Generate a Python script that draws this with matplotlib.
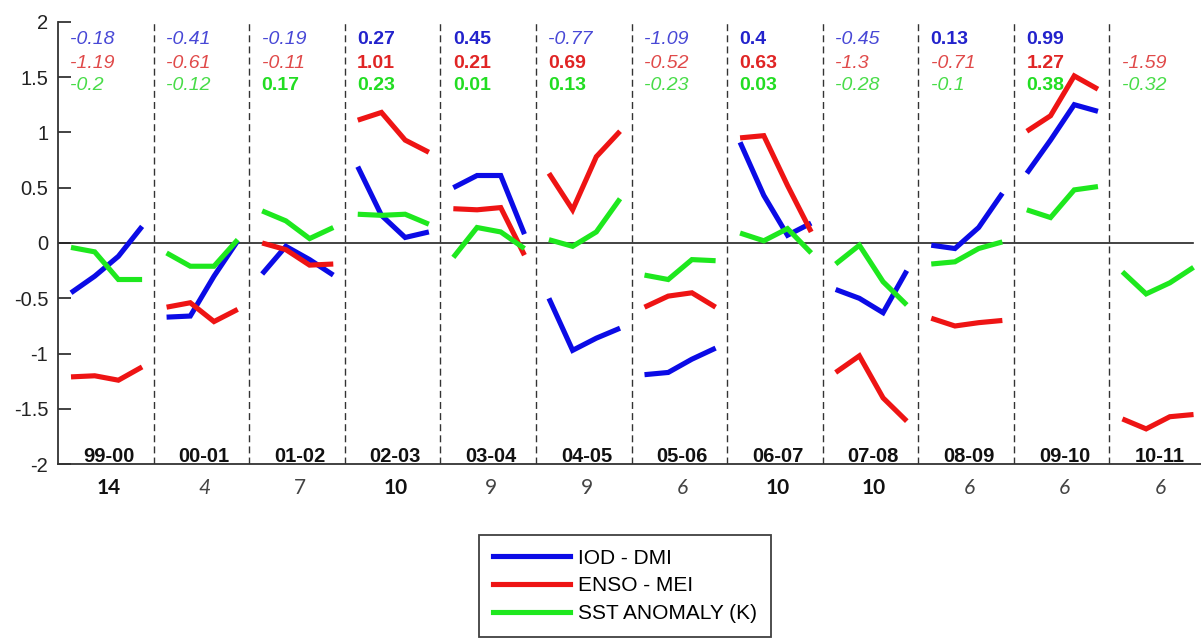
import matplotlib
matplotlib.use("Agg")
import matplotlib.pyplot as plt
from matplotlib.lines import Line2D
import numpy as np

plt.rcParams['font.family'] = ['Liberation Sans', 'DejaVu Sans']

# ---------------- data ----------------
seasons = ["99-00", "00-01", "01-02", "02-03", "03-04", "04-05",
           "05-06", "06-07", "07-08", "08-09", "09-10", "10-11"]
counts = [14, 4, 7, 10, 9, 9, 6, 10, 10, 6, 6, 6]
count_style = ["bold", "italic", "normal", "bold", "normal", "normal",
               "italic", "bold", "bold", "italic", "italic", "italic"]

iod = [
    [-0.45, -0.30, -0.12, 0.15],
    [-0.67, -0.66, -0.30, 0.02],
    [-0.28, -0.03, -0.15, -0.29],
    [0.69, 0.25, 0.05, 0.10],
    [0.50, 0.61, 0.61, 0.08],
    [-0.50, -0.97, -0.86, -0.77],
    [-1.19, -1.17, -1.05, -0.95],
    [0.91, 0.43, 0.07, 0.18],
    [-0.42, -0.50, -0.63, -0.25],
    [-0.02, -0.05, 0.14, 0.45],
    [0.63, 0.93, 1.25, 1.19],
    None,
]
enso = [
    [-1.21, -1.20, -1.24, -1.12],
    [-0.58, -0.54, -0.71, -0.60],
    [0.00, -0.06, -0.20, -0.19],
    [1.11, 1.18, 0.93, 0.82],
    [0.31, 0.30, 0.32, -0.11],
    [0.63, 0.30, 0.78, 1.01],
    [-0.58, -0.48, -0.45, -0.58],
    [0.95, 0.97, 0.52, 0.10],
    [-1.17, -1.02, -1.40, -1.61],
    [-0.68, -0.75, -0.72, -0.70],
    [1.01, 1.15, 1.51, 1.39],
    [-1.59, -1.68, -1.57, -1.55],
]
sst = [
    [-0.04, -0.08, -0.33, -0.33],
    [-0.09, -0.21, -0.21, 0.03],
    [0.29, 0.20, 0.04, 0.14],
    [0.26, 0.25, 0.26, 0.17],
    [-0.13, 0.14, 0.10, -0.05],
    [0.03, -0.03, 0.10, 0.40],
    [-0.29, -0.33, -0.15, -0.16],
    [0.09, 0.02, 0.13, -0.09],
    [-0.19, -0.02, -0.35, -0.56],
    [-0.19, -0.17, -0.05, 0.01],
    [0.30, 0.23, 0.48, 0.51],
    [-0.26, -0.46, -0.36, -0.22],
]

iod_mean = [-0.18, -0.41, -0.19, 0.27, 0.45, -0.77, -1.09, 0.4, -0.45, 0.13, 0.99, None]
enso_mean = [-1.19, -0.61, -0.11, 1.01, 0.21, 0.69, -0.52, 0.63, -1.3, -0.71, 1.27, -1.59]
sst_mean = [-0.2, -0.12, 0.17, 0.23, 0.01, 0.13, -0.23, 0.03, -0.28, -0.1, 0.38, -0.32]

series_names = ["IOD - DMI", "ENSO - MEI", "SST ANOMALY (K)"]

# ---------------- styling ----------------
line_colors = ["#0b0be6", "#ee1414", "#1ee81e"]
bold_colors = ["#2222cc", "#e02424", "#22dd22"]
ital_colors = ["#4848d6", "#e04a4a", "#48dc48"]

W, H = 1201, 638
fig = plt.figure(figsize=(W / 100, H / 100), dpi=100)
ax_left, ax_right = 58, 1205
ax_top, ax_bot = 21.7, 464.3
ax = fig.add_axes([ax_left / W, (H - ax_bot) / H,
                   (ax_right - ax_left) / W, (ax_bot - ax_top) / H])

n = len(seasons)
ax.set_xlim(0, n)
ax.set_ylim(-2, 2)

# panel separators
for k in range(1, n):
    ax.axvline(k, color="#333333", lw=1.0, ls=(0, (5, 3)), zorder=1)

# zero line
ax.axhline(0, xmin=0, xmax=11.87 / n, color="#222222", lw=1.2, zorder=2)

offs = 0.136 + 0.248 * np.arange(4)
for k in range(n):
    xs = k + offs
    for data, c in zip([iod, enso, sst], line_colors):
        vals = data[k]
        if vals is None:
            continue
        ax.plot(xs, vals, color=c, lw=3.7, solid_joinstyle="miter",
                solid_capstyle="butt", zorder=3)

# annotations (seasonal means)
row_px = [40, 63, 85]
for k in range(n):
    for j, means in enumerate([iod_mean, enso_mean, sst_mean]):
        v = means[k]
        if v is None:
            continue
        y = 2 - (row_px[j] - ax_top) / (ax_bot - ax_top) * 4
        if v > 0:
            ax.text(k + 0.13, y, str(v), color=bold_colors[j], fontsize=14,
                    fontweight="bold", ha="left", va="center", zorder=4)
        else:
            ax.text(k + 0.13, y, str(v), color=ital_colors[j], fontsize=14,
                    fontstyle="italic", ha="left", va="center", zorder=4)

# season labels inside bottom
ylab = 2 - (457 - ax_top) / (ax_bot - ax_top) * 4
for k, s in enumerate(seasons):
    ax.text(k + 0.53, ylab, s, fontsize=14.5, fontweight="bold",
            ha="center", va="center", color="#111111", zorder=4)

# counts below axis
for k, (c, st) in enumerate(zip(counts, count_style)):
    kw = dict(fontsize=15, ha="center", va="center",
              family=["Lato", "DejaVu Sans"])
    if st == "bold":
        kw.update(fontweight="bold", color="#111111")
    elif st == "italic":
        kw.update(fontstyle="italic", color="#444444")
    else:
        kw.update(color="#444444")
    fy = (H - 488) / H
    xfig = (ax_left + (k + 0.53) * (ax_right - ax_left) / n) / W
    fig.text(xfig, fy, str(c), **kw)

# axes styling
ax.spines["top"].set_visible(False)
ax.spines["right"].set_visible(False)
ax.spines["left"].set_color("#333333")
ax.spines["bottom"].set_color("#333333")
ax.spines["left"].set_linewidth(1.3)
ax.spines["bottom"].set_linewidth(1.3)
ax.set_xticks([])
yt = np.arange(-2, 2.01, 0.5)
ax.set_yticks(yt)
ax.set_yticklabels([f"{v:g}" for v in yt])
ax.tick_params(axis="y", direction="in", length=9, width=1.2,
               labelsize=14.5, pad=7, colors="#222222")

# legend
handles = [Line2D([], [], color=c, lw=3.7) for c in line_colors]
leg = fig.legend(handles, series_names, loc="upper left",
                 bbox_to_anchor=(479 / W, (H - 535) / H),
                 fontsize=15, frameon=True, fancybox=False,
                 handlelength=3.7, handletextpad=0.4, labelspacing=0.42,
                 borderpad=0.65, borderaxespad=0)
leg.get_frame().set_edgecolor("#111111")
leg.get_frame().set_linewidth(1.3)

fig.savefig("out.png", dpi=100)
